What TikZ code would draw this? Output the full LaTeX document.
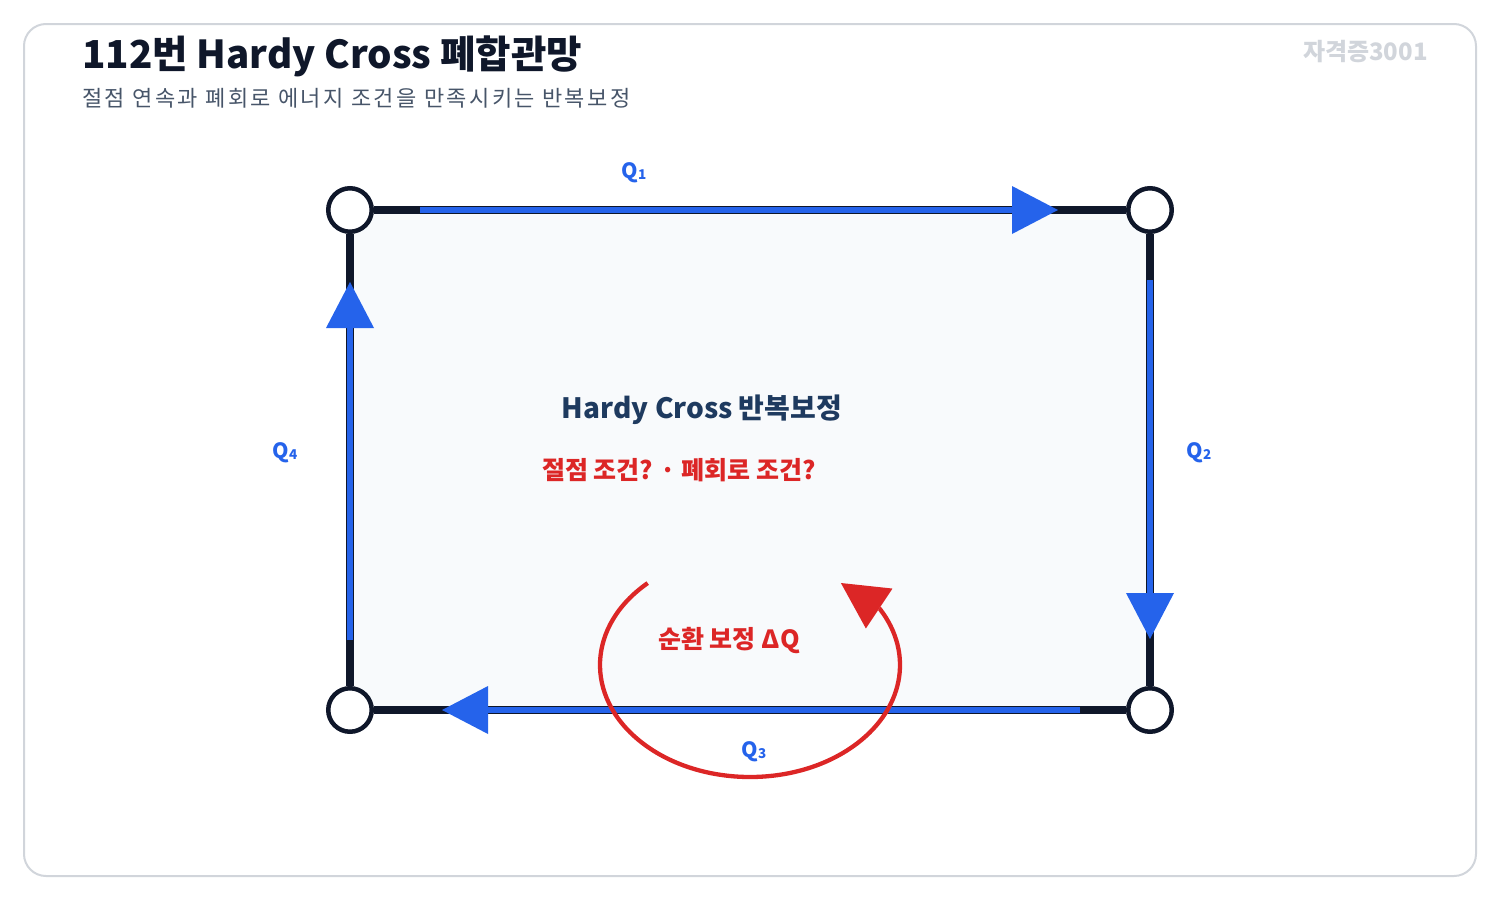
\documentclass[tikz,border=0pt]{standalone}
\usepackage{fontspec}
\setmainfont{Noto Sans CJK KR}
\usetikzlibrary{positioning,arrows.meta,backgrounds}

\definecolor{ink}{HTML}{0F172A}
\definecolor{flowblue}{HTML}{2563EB}
\definecolor{loopred}{HTML}{DC2626}
\definecolor{framegray}{HTML}{D1D5DB}
\definecolor{panel}{HTML}{F8FAFC}
\definecolor{subgray}{HTML}{475569}
\definecolor{navy}{HTML}{1E3A5F}
\definecolor{markgray}{HTML}{D1D5DB}

\newcommand{\qsub}[1]{Q{\fontsize{13.5}{13.5}\selectfont\raisebox{-1pt}{#1}}}

\begin{document}
\begin{tikzpicture}[x=1pt,y=-1pt]
	\tikzstyle{junction}=[circle, minimum size = 43.5pt, inner sep = 0pt, line width = 4.5pt, draw = ink, fill = white, on grid]
	\tikzstyle{pipe}=[line width = 8pt, draw = ink]
	\tikzstyle{flow}=[line width = 6pt, draw = flowblue, -{Triangle[length=46pt, width=48pt, line width=0pt]}]
	\tikzstyle{cycleloop}=[line width = 4.3pt, draw = loopred, -{Triangle[length=46pt, width=48pt, line width=0pt]}]
	\tikzstyle{qlabel}=[font = \bfseries\fontsize{21}{21}\selectfont, text = flowblue]
	\useasboundingbox (0,0) rectangle (1500,900);
	\draw[framegray, line width = 2pt, rounded corners = 22pt] (24,24) rectangle (1476,876);
	
	\node[anchor = base west, inner sep = 0pt, font = \bfseries\fontsize{38.5}{38.5}\selectfont, text = ink] (title) at (82,68) {112번 Hardy Cross 폐합관망};
	\node[anchor = base west, inner sep = 0pt, font = \fontsize{22}{22}\selectfont\addfontfeatures{LetterSpace=11}, text = subgray] (subtitle) at (82,106) {절점 연속과 폐회로 에너지 조건을 만족시키는 반복보정};
	\node[anchor = base east, inner sep = 0pt, font = \bfseries\fontsize{24}{24}\selectfont, text = markgray] (mark) at (1428,60) {자격증3001};
	
	\node[junction] (a) at (350,210) {};
	\node[junction] (b) [right=800pt of a] {};
	\node[junction] (c) [below=500pt of b] {};
	\node[junction] (d) [left=800pt of c] {};
	
	\begin{scope}[on background layer]
		\fill[panel] (a.center) rectangle (c.center);
	\end{scope}
	
	\path 
	(a) edge [pipe] (b)
	(b) edge [pipe] (c)
	(c) edge [pipe] (d)
	(d) edge [pipe] (a)
	;
	
	\draw[flow] ([xshift=70pt]a.center) -- ([xshift=-92pt]b.center);
	\draw[flow] ([yshift=-70pt]b.center) -- ([yshift=71pt]c.center);
	\draw[flow] ([xshift=-70pt]c.center) -- ([xshift=92pt]d.center);
	\draw[flow] ([yshift=70pt]d.center) -- ([yshift=-72pt]a.center);
	
	\node[qlabel] (q1) at (634,173) {\qsub{1}};
	\node[qlabel] (q2) at (1199,453) {\qsub{2}};
	\node[qlabel] (q3) at (754,752) {\qsub{3}};
	\node[qlabel] (q4) at (285,453) {\qsub{4}};
	
	\node[font = \bfseries\fontsize{28}{28}\selectfont, text = navy] (heading) at (702,410) {Hardy Cross 반복보정};
	\node[font = \bfseries\fontsize{25}{25}\selectfont, text = loopred] (question) at (679,470) {절점 조건? · 폐회로 조건?};
	
	\coordinate (loop) at (750,665);
	\draw[cycleloop] (loop) ++(227:150 and 112) arc[start angle=227, end angle=-30, x radius=150, y radius=112] -- ++(-39,-26);
	\node[font = \bfseries\fontsize{25}{25}\selectfont, text = loopred] (correction) at (729,641) {순환 보정 ΔQ};
\end{tikzpicture}
\end{document}
